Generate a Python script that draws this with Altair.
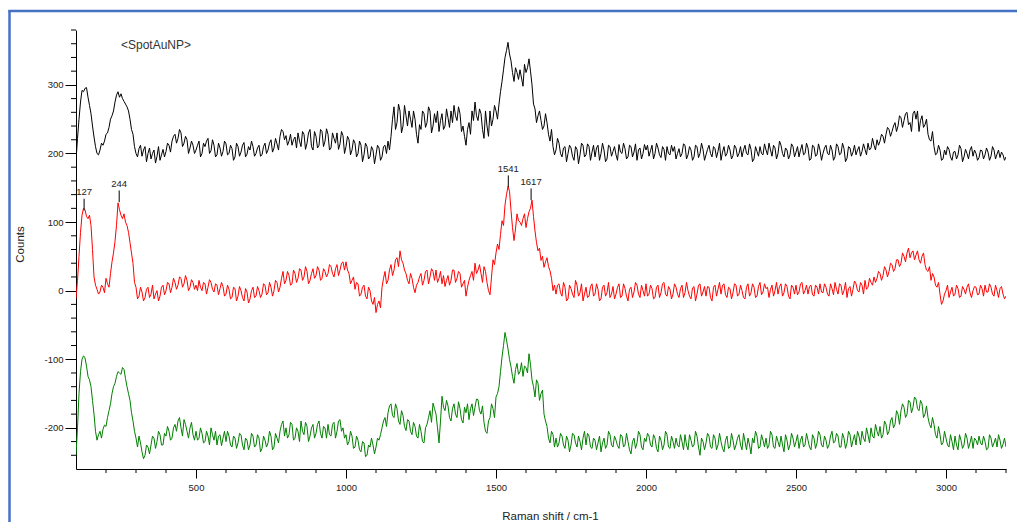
import altair as alt
import pandas as pd

# Raman shift sampling (cm-1): the *_counts lists start at 100 with a 10 cm-1 step,
# the *_mid lists hold the in-between readings (105, 115, ... 3195)
shift_start = 100
shift_step = 10

black_counts = [
    190, 250, 292, 295, 282, 258, 224, 200, 205, 212,   # 100
    228, 238, 255, 275, 290, 287, 276, 268, 250, 228,   # 200
    200, 207, 196, 210, 200, 192, 205, 196, 190, 206,   # 300
    203, 212, 218, 228, 222, 230, 215, 220, 208, 212,   # 400
    205, 218, 200, 210, 222, 204, 212, 198, 208, 203,   # 500
    214, 200, 207, 195, 210, 202, 216, 199, 205, 210,   # 600
    200, 212, 198, 215, 205, 220, 208, 214, 225, 232,   # 700
    226, 218, 212, 224, 230, 210, 228, 215, 235, 205,   # 800
    225, 212, 232, 218, 228, 208, 222, 230, 214, 226,   # 900
    210, 220, 205, 215, 200, 212, 198, 210, 195, 205,   # 1000
    198, 208, 195, 212, 218, 225, 268, 245, 262, 240,   # 1100
    255, 262, 238, 250, 215, 235, 258, 245, 262, 240,   # 1200
    245, 232, 258, 240, 252, 262, 270, 248, 258, 240,   # 1300
    212, 245, 262, 275, 248, 258, 222, 240, 262, 250,   # 1400
    262, 272, 305, 340, 362, 335, 305, 318, 322, 298,   # 1500
    318, 338, 300, 265, 255, 248, 240, 245, 218, 210,   # 1600
    205, 215, 195, 210, 200, 208, 190, 206, 198, 212,   # 1700
    198, 210, 202, 195, 212, 200, 205, 192, 210, 203,   # 1800
    198, 213, 200, 207, 195, 210, 202, 190, 208, 200,   # 1900
    205, 196, 212, 200, 208, 194, 206, 210, 198, 203,   # 2000
    192, 207, 200, 212, 198, 205, 195, 210, 200, 206,   # 2100
    198, 212, 195, 207, 203, 190, 210, 200, 205, 197,   # 2200
    208, 200, 195, 212, 198, 206, 192, 203, 210, 198,   # 2300
    205, 215, 196, 208, 200, 212, 195, 205, 198, 210,   # 2400
    202, 195, 213, 200, 208, 192, 210, 198, 205, 200,   # 2500
    212, 198, 205, 195, 210, 200, 207, 193, 208, 202,   # 2600
    198, 210, 203, 206, 215, 208, 212, 220, 218, 225,   # 2700
    228, 235, 232, 245, 240, 252, 248, 260, 245, 258,   # 2800
    250, 232, 255, 242, 228, 218, 210, 200, 205, 192,   # 2900
    198, 206, 190, 203, 198, 207, 195, 200, 205, 196,   # 3000
    200, 194, 204, 198, 202, 196, 205, 199, 194, 198,   # 3100
    195,
]
black_mid = [
    222, 275, 290, 296, 270, 240, 210, 198, 215, 218,   # 105
    230, 250, 262, 285, 282, 280, 272, 262, 235, 210,   # 205
    195, 212, 205, 188, 208, 200, 186, 210, 198, 195,   # 305
    215, 202, 225, 215, 235, 210, 225, 200, 218, 200,   # 405
    212, 195, 215, 218, 200, 220, 195, 215, 196, 218,   # 505
    198, 212, 190, 215, 196, 212, 195, 210, 218, 196,   # 605
    208, 196, 210, 200, 215, 202, 222, 205, 235, 220,   # 705
    212, 228, 220, 208, 218, 232, 206, 230, 210, 232,   # 805
    208, 235, 210, 236, 205, 230, 215, 206, 232, 200,   # 905
    225, 198, 220, 195, 218, 188, 215, 192, 210, 185,   # 1005
    212, 190, 210, 200, 205, 250, 235, 272, 230, 270,   # 1105
    240, 250, 262, 228, 242, 262, 238, 268, 230, 258,   # 1205
    262, 248, 235, 265, 238, 245, 255, 268, 232, 225,   # 1305
    235, 228, 248, 255, 265, 235, 262, 225, 240, 270,   # 1405
    250, 290, 322, 350, 345, 318, 325, 308, 310, 330,   # 1505
    325, 320, 272, 245, 262, 235, 258, 228, 235, 198,   # 1605
    222, 200, 208, 188, 212, 196, 210, 185, 215, 195,   # 1705
    214, 190, 212, 208, 190, 215, 188, 212, 196, 210,   # 1805
    190, 202, 215, 192, 212, 195, 214, 205, 192, 213,   # 1905
    212, 204, 192, 215, 198, 210, 190, 200, 212, 210,   # 2005
    200, 195, 214, 192, 210, 190, 212, 194, 215, 190,   # 2105
    206, 200, 210, 194, 215, 202, 196, 212, 192, 212,   # 2205
    195, 210, 205, 200, 214, 188, 210, 196, 200, 214,   # 2305
    198, 205, 212, 192, 218, 200, 208, 192, 214, 195,   # 2405
    210, 205, 198, 215, 190, 212, 196, 214, 190, 208,   # 2505
    200, 212, 190, 214, 198, 215, 188, 210, 196, 212,   # 2605
    205, 196, 214, 198, 205, 222, 205, 212, 228, 215,   # 2705
    238, 225, 240, 232, 255, 238, 258, 242, 232, 262,   # 2805
    262, 248, 238, 250, 220, 232, 198, 212, 190, 205,   # 2905
    210, 195, 202, 192, 212, 188, 206, 192, 210, 205,   # 3005
    190, 205, 192, 208, 190, 210, 192, 205, 202, 190,   # 3105
]

red_counts = [
    -12, 50, 110, 118, 105, 95, 20, 2, -2, 5,           # 100
    18, 5, 42, 72, 128, 110, 112, 95, 70, 40,           # 200
    5, -8, -2, -10, 5, -5, -12, 0, -8, 8,               # 300
    0, 10, 5, 12, 8, 18, 10, 15, 5, 12,                 # 400
    8, 15, 0, 10, 5, 12, -2, 8, 3, 6,                   # 500
    -5, 2, -10, 3, -8, 0, -15, -2, -12, 5,              # 600
    -8, 0, -5, 8, -3, 5, 0, 12, 5, 28,                  # 700
    15, 22, 10, 25, 18, 30, 20, 28, 15, 32,             # 800
    22, 30, 18, 28, 25, 35, 20, 38, 30, 42,             # 900
    42, 25, 15, 2, 10, -5, 8, -12, 0, -20,              # 1000
    -32, -15, 5, 28, 15, 38, 30, 48, 58, 40,            # 1100
    25, 10, 18, -3, 12, 25, 15, 30, 20, 28,             # 1200
    30, 18, 10, 6, 22, 15, 30, 18, 25, 10,              # 1300
    -8, 15, 28, 40, 30, 25, 35, 12, -6, 45,             # 1400
    55, 60, 102, 125, 152, 117, 73, 112, 100, 105,      # 1500
    92, 115, 132, 87, 58, 44, 34, 48, 29, 0,            # 1600
    -5, 10, -8, 5, -12, 3, -10, 8, -3, -15,             # 1700
    5, -8, 10, -5, 2, -12, 8, -3, -10, 6,               # 1800
    -5, 10, -8, 3, -15, 5, -2, 8, -10, 0,               # 1900
    10, -5, 3, -10, 8, -3, 12, -8, 2, -5,               # 2000
    5, -10, 8, -3, 0, -12, 6, -5, 10, -2,               # 2100
    -8, 5, -15, 8, 2, -5, 10, -10, 3, -3,               # 2200
    8, -5, 0, -12, 10, -3, 5, -8, 12, -2,               # 2300
    3, -10, 8, 0, -5, 10, -3, 6, -12, 5,                # 2400
    8, -2, 12, 0, -5, 8, -8, 5, 10, -3,                 # 2500
    5, -8, 3, 12, -5, 8, 0, -10, 6, 2,                  # 2600
    10, -2, 8, 15, 5, 12, 20, 18, 25, 22,               # 2700
    30, 28, 38, 32, 45, 40, 50, 55, 48, 58,             # 2800
    52, 45, 50, 38, 28, 15, 20, 5, -5, -15,             # 2900
    0, -10, 5, -5, 3, -8, 2, 5, -3, 0,                  # 3000
    5, -5, 3, 8, -2, 5, -8, 0, 3, -5,                   # 3100
    -8,
]
red_mid = [
    15, 85, 120, 108, 110, 60, 8, -5, 8, -3,            # 105
    10, 25, 55, 95, 118, 105, 100, 85, 55, 12,          # 205
    -12, 5, -15, 2, -10, 8, -5, -15, 5, -6,             # 305
    12, -3, 18, 2, 20, 5, 22, 0, 16, 2,                 # 405
    0, 5, 12, -5, 16, 2, 10, -6, 12, -8,                # 505
    8, -12, 5, -15, 6, -10, 3, -18, 0, -10,             # 605
    6, -10, 10, -6, 12, -8, 15, -2, 18, 10,             # 705
    28, 8, 30, 12, 32, 15, 35, 10, 25, 18,              # 805
    35, 15, 32, 20, 38, 25, 32, 22, 40, 30,             # 905
    30, 10, 20, 12, -8, 5, -8, 5, -15, -10,             # 1005
    -20, -25, 18, 10, 30, 22, 45, 35, 45, 30,           # 1105
    15, 25, 5, 8, 20, 8, 28, 10, 32, 15,                # 1205
    12, 28, 22, 15, 8, 30, 12, 28, 5, 15,               # 1305
    5, 22, 15, 25, 38, 12, 28, 0, 20, 38,               # 1405
    68, 82, 95, 140, 145, 92, 90, 102, 95, 112,         # 1505
    105, 120, 108, 70, 62, 50, 42, 35, 18, 8,           # 1605
    8, -3, 12, -15, 8, -5, 15, -8, 10, -5,              # 1705
    -10, 6, -8, 10, -15, 5, -8, 12, -5, -12,            # 1805
    5, -10, 10, -8, 2, -10, 12, -5, 8, -8,              # 1905
    -8, 8, -12, 5, -10, 10, -5, 6, -12, 10,             # 2005
    -5, 3, -10, 12, -8, 4, -15, 8, -8, 6,               # 2105
    6, -10, 5, -8, 12, 8, -6, 5, -12, 10,               # 2205
    -8, 8, -10, 5, -8, 10, -10, 6, -6, 10,              # 2305
    5, 2, -8, 12, 6, -8, 10, -8, 8, -5,                 # 2405
    -6, 10, -5, 8, 6, -6, 8, -5, -2, 10,                # 2505
    -5, 10, -6, 2, 10, -6, 12, 3, -8, 14,               # 2605
    0, 12, -5, 2, 18, 8, 12, 28, 15, 35,                # 2705
    20, 40, 28, 45, 35, 55, 42, 62, 55, 45,             # 2805
    58, 40, 55, 30, 35, 25, 8, 12, -20, -5,             # 2905
    8, -2, -8, 8, -10, 6, -5, 10, -10, 6,               # 3005
    -6, 8, -8, -2, 10, -5, 8, -10, 6, -12,              # 3105
]

green_counts = [
    -240, -150, -100, -98, -125, -140, -180, -218, -205, -202,   # 100
    -198, -175, -150, -135, -118, -122, -115, -140, -160, -190,  # 200
    -215, -212, -235, -240, -228, -225, -215, -220, -210, -225,  # 300
    -212, -205, -215, -195, -190, -200, -188, -205, -200, -210,  # 400
    -205, -215, -208, -220, -212, -200, -218, -225, -210, -215,  # 500
    -220, -212, -228, -215, -222, -210, -232, -218, -225, -212,  # 600
    -225, -215, -230, -218, -222, -212, -228, -215, -205, -190,  # 700
    -200, -210, -195, -215, -205, -190, -210, -198, -212, -195,  # 800
    -208, -190, -215, -200, -195, -212, -192, -205, -188, -200,  # 900
    -210, -220, -212, -228, -218, -235, -222, -240, -228, -225,  # 1000
    -228, -218, -200, -185, -178, -165, -185, -172, -195, -182,  # 1100
    -204, -190, -210, -198, -215, -205, -222, -195, -175, -164,  # 1200
    -180, -222, -154, -175, -168, -190, -165, -185, -172, -193,  # 1300
    -178, -188, -165, -170, -159, -180, -192, -208, -185, -172,  # 1400
    -155, -140, -97, -61, -85, -111, -135, -106, -118, -125,     # 1500
    -112, -92, -130, -155, -135, -150, -180, -198, -222, -210,   # 1600
    -215, -222, -212, -230, -218, -225, -210, -228, -220, -215,  # 1700
    -225, -212, -230, -218, -222, -235, -215, -225, -210, -228,  # 1800
    -218, -230, -212, -225, -220, -238, -215, -222, -210, -232,  # 1900
    -220, -212, -228, -215, -235, -218, -225, -210, -230, -220,  # 2000
    -215, -228, -220, -210, -232, -218, -225, -212, -240, -220,  # 2100
    -222, -212, -230, -215, -225, -220, -235, -212, -228, -218,  # 2200
    -225, -210, -232, -220, -215, -238, -222, -212, -228, -218,  # 2300
    -215, -225, -210, -230, -220, -212, -235, -218, -225, -215,  # 2400
    -220, -230, -212, -225, -218, -232, -215, -222, -210, -228,  # 2500
    -218, -225, -205, -220, -212, -228, -215, -222, -210, -218,  # 2600
    -225, -212, -205, -220, -210, -200, -215, -205, -198, -210,  # 2700
    -195, -205, -185, -195, -180, -175, -170, -180, -162, -170,  # 2800
    -158, -175, -165, -180, -185, -200, -195, -215, -210, -222,  # 2900
    -215, -228, -220, -212, -232, -218, -225, -215, -222, -230,  # 3000
    -218, -212, -225, -220, -230, -215, -222, -228, -218, -224,  # 3100
    -228,
]
green_mid = [
    -200, -118, -95, -110, -130, -160, -205, -210, -215, -196,   # 105
    -185, -165, -140, -125, -120, -112, -128, -150, -178, -205,  # 205
    -228, -222, -245, -225, -238, -212, -230, -205, -225, -208,  # 305
    -198, -218, -200, -205, -185, -212, -195, -215, -192, -218,  # 405
    -218, -200, -222, -205, -225, -210, -205, -212, -226, -205,  # 505
    -205, -225, -212, -230, -208, -225, -215, -232, -208, -228,  # 605
    -210, -235, -212, -228, -205, -232, -208, -222, -195, -212,  # 705
    -215, -192, -218, -200, -220, -205, -192, -220, -200, -215,  # 805
    -195, -208, -198, -215, -210, -195, -215, -190, -205, -215,  # 905
    -225, -205, -230, -212, -232, -220, -242, -225, -215, -238,  # 1005
    -215, -210, -190, -198, -168, -182, -165, -190, -175, -198,  # 1105
    -188, -205, -192, -212, -195, -220, -200, -185, -192, -172,  # 1205
    -200, -190, -170, -160, -185, -172, -180, -162, -188, -170,  # 1305
    -165, -172, -182, -158, -175, -168, -205, -190, -165, -185,  # 1405
    -150, -118, -80, -72, -100, -125, -115, -122, -105, -110,    # 1505
    -120, -108, -140, -130, -160, -145, -190, -215, -205, -228,  # 1605
    -228, -208, -225, -212, -235, -208, -222, -212, -232, -205,  # 1705
    -208, -228, -215, -232, -212, -222, -230, -205, -225, -212,  # 1805
    -226, -210, -228, -208, -232, -220, -230, -205, -228, -215,  # 1905
    -208, -225, -210, -230, -212, -232, -205, -228, -212, -230,  # 2005
    -225, -210, -232, -225, -210, -228, -205, -228, -215, -232,  # 2105
    -208, -228, -210, -232, -208, -230, -218, -230, -208, -232,  # 2205
    -215, -225, -208, -232, -225, -215, -205, -230, -210, -228,  # 2305
    -230, -205, -228, -212, -228, -225, -210, -232, -208, -228,  # 2405
    -210, -218, -228, -208, -228, -210, -230, -205, -225, -212,  # 2505
    -230, -212, -222, -208, -228, -208, -230, -205, -228, -210,  # 2605
    -205, -225, -215, -200, -222, -212, -195, -212, -215, -190,  # 2705
    -210, -190, -200, -175, -195, -165, -185, -160, -178, -155,  # 2805
    -172, -160, -185, -168, -195, -185, -210, -198, -225, -205,  # 2905
    -225, -210, -232, -225, -210, -230, -208, -230, -212, -215,  # 3005
    -225, -222, -212, -232, -210, -228, -215, -210, -230, -215,  # 3105
]

series_names = ["black", "red", "green"]
series_colors = ["#000000", "#ff0000", "#008000"]

# Peak annotations on the red spectrum
peak_shift = [127, 244, 1541, 1617]
peak_counts = [117, 129, 151, 132]
peak_labels = ["127", "244", "1541", "1617"]

# Axis ticks
x_major = [500, 1000, 1500, 2000, 2500, 3000]
x_minor = [v for v in range(200, 3201, 100) if v % 500 != 0]
y_major = [-200, -100, 0, 100, 200, 300]
y_minor = [v for v in range(-240, 381, 20) if v % 100 != 0]

rows = []
for name, main, mid in zip(series_names,
                           [black_counts, red_counts, green_counts],
                           [black_mid, red_mid, green_mid]):
    for i, v in enumerate(main):
        rows.append({"shift": shift_start + shift_step * i, "counts": v, "series": name})
    for i, v in enumerate(mid):
        rows.append({"shift": shift_start + shift_step / 2 + shift_step * i, "counts": v, "series": name})
df = pd.DataFrame(rows)

peaks = pd.DataFrame({"shift": peak_shift, "counts": peak_counts, "label": peak_labels})
xminor_df = pd.DataFrame({"shift": x_minor})
yminor_df = pd.DataFrame({"counts": y_minor})

FONT = "Liberation Sans"
TXT = "#222222"
PLOT_H = 439

xs = alt.Scale(domain=[100, 3200], nice=False, zero=False)
ys = alt.Scale(domain=[-260, 380], nice=False, zero=False)

x_axis = alt.Axis(
    orient="bottom", values=x_major, format="d", tickSize=9, tickColor="#000", tickWidth=1,
    domainColor="#000", domainWidth=1, grid=False,
    labelPadding=4, labelFontSize=9.5, labelFont=FONT, labelColor=TXT, labelFlush=False,
    title="Raman shift / cm-1", titleFont=FONT, titleFontSize=11.5, titleFontWeight="normal",
    titleColor=TXT, titleX=474, titleY=47, titleAlign="center", titleBaseline="middle",
)
y_axis = alt.Axis(
    orient="left", values=y_major, tickSize=11, tickColor="#000", tickWidth=1,
    domainColor="#000", domainWidth=1, grid=False,
    labelPadding=2, labelFontSize=9.5, labelFont=FONT, labelColor=TXT, labelFlush=False,
    labelExpr="replace(datum.label, '\u2212', '-')",
    title="Counts", titleFont=FONT, titleFontSize=11.5, titleFontWeight="normal",
    titleColor=TXT, titleX=-56, titleY=214, titleAlign="center", titleBaseline="middle",
)

lines = alt.Chart(df).mark_line(strokeWidth=1, clip=True).encode(
    x=alt.X("shift:Q", scale=xs, axis=x_axis),
    y=alt.Y("counts:Q", scale=ys, axis=y_axis),
    color=alt.Color("series:N", scale=alt.Scale(domain=series_names, range=series_colors), legend=None),
)

# minor ticks drawn from the tick lists through the shared scales
x_minor_ticks = alt.Chart(xminor_df).mark_rule(color="#000", strokeWidth=1).encode(
    x=alt.X("shift:Q", scale=xs, axis=None),
    y=alt.value(PLOT_H), y2=alt.value(PLOT_H + 4),
)
y_minor_ticks = alt.Chart(yminor_df).mark_rule(color="#000", strokeWidth=1).encode(
    y=alt.Y("counts:Q", scale=ys, axis=None),
    x=alt.value(-5), x2=alt.value(0),
)

peak_rules = alt.Chart(peaks).transform_calculate(top="datum.counts + 17").mark_rule(
    color="#000", strokeWidth=1
).encode(
    x=alt.X("shift:Q", scale=xs, axis=None),
    y=alt.Y("counts:Q", scale=ys, axis=None),
    y2="top:Q",
)

peak_text = alt.Chart(peaks).transform_calculate(top="datum.counts + 17").mark_text(
    baseline="alphabetic", align="center", dy=-3.5, fontSize=9.5, font=FONT, color=TXT
).encode(
    x=alt.X("shift:Q", scale=xs, axis=None),
    y=alt.Y("top:Q", scale=ys, axis=None),
    text="label:N",
)

tag = alt.Chart(alt.Data(values=[{}])).mark_text(
    align="center", baseline="middle", fontSize=12, font=FONT, color="#333333"
).encode(x=alt.value(80), y=alt.value(15), text=alt.value("<SpotAuNP>"))

border_left = alt.Chart(alt.Data(values=[{}])).mark_rule(color="#4472C4", strokeWidth=2.5).encode(
    x=alt.value(-66.5), y=alt.value(-20), y2=alt.value(492)
)
border_top = alt.Chart(alt.Data(values=[{}])).mark_rule(color="#4472C4", strokeWidth=2.5).encode(
    x=alt.value(-67.5), x2=alt.value(941), y=alt.value(-19)
)

chart = alt.layer(
    lines, x_minor_ticks, y_minor_ticks, peak_rules, peak_text, tag, border_left, border_top
).resolve_axis(x="independent", y="independent").properties(
    width=930, height=PLOT_H,
    padding={"left": 76, "top": 30, "right": 11, "bottom": 53},
    autosize="none",
    background="white",
).configure_view(strokeWidth=0)

chart.save("out.html", embed_options={"renderer": "svg", "actions": False})
